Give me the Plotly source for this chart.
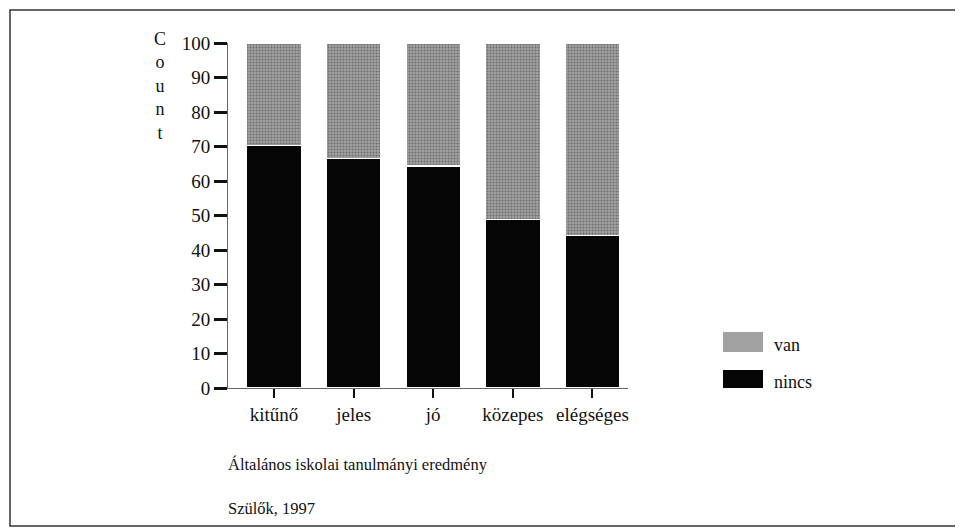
import plotly.graph_objects as go

categories = ["kitűnő", "jeles", "jó", "közepes", "elégséges"]
nincs = [70.3, 66.5, 64.3, 48.8, 44.2]
van = [29.7, 33.5, 35.7, 51.2, 55.8]
y_ticks = [0, 10, 20, 30, 40, 50, 60, 70, 80, 90, 100]

SERIF = "Liberation Serif, Times New Roman, serif"
VAN_GRAY = "#a2a2a2"

fig = go.Figure()
fig.add_trace(
    go.Bar(
        x=categories,
        y=nincs,
        name="nincs",
        marker=dict(color="#050505", line=dict(color="white", width=1.5)),
        width=0.69,
    )
)
fig.add_trace(
    go.Bar(
        x=categories,
        y=van,
        name="van",
        marker=dict(
            color=VAN_GRAY,
            line=dict(color="white", width=1.5),
            pattern=dict(shape=".", fgcolor="#3c3c3c", size=3, solidity=0.4),
        ),
        width=0.69,
    )
)

# page body adds 8px, so the figure is 8px smaller than the window
fig.update_layout(
    barmode="stack",
    width=955,
    height=524,
    margin=dict(l=220, r=335, t=35, b=144),
    paper_bgcolor="white",
    plot_bgcolor="white",
    font=dict(family=SERIF, size=18, color="#111"),
    showlegend=False,
    xaxis=dict(
        range=[-0.578, 4.447],
        showline=True,
        linecolor="#666",
        linewidth=1,
        ticks="outside",
        ticklen=9,
        tickwidth=2,
        tickcolor="#111",
        showgrid=False,
        tickfont=dict(family=SERIF, size=19),
    ),
    yaxis=dict(
        range=[0, 100],
        tickvals=y_ticks,
        showline=True,
        linecolor="#666",
        linewidth=1,
        ticks="outside",
        ticklen=13,
        tickwidth=2.5,
        tickcolor="#111",
        showgrid=False,
        zeroline=False,
        tickfont=dict(family=SERIF, size=19),
    ),
)

fig.add_annotation(
    text="C<br>o<br>u<br>n<br>t",
    xref="paper", yref="paper",
    x=-0.17, y=1.045,
    xanchor="center", yanchor="top",
    showarrow=False,
    font=dict(family=SERIF, size=18),
)
fig.add_annotation(
    text="Általános iskolai tanulmányi eredmény",
    xref="paper", yref="paper",
    x=-0.005, y=-0.223,
    xanchor="left", yanchor="middle",
    showarrow=False,
    font=dict(family=SERIF, size=16.5),
)
fig.add_annotation(
    text="Szülők, 1997",
    xref="paper", yref="paper",
    x=-0.005, y=-0.348,
    xanchor="left", yanchor="middle",
    showarrow=False,
    font=dict(family=SERIF, size=16.5),
)

# legend keys, drawn large like the printed figure
legend_items = [("van", VAN_GRAY, 0.104, 0.162, 0.124), ("nincs", "#050505", 0.0, 0.052, 0.017)]
for label, colour, y0, y1, ty in legend_items:
    fig.add_shape(
        type="rect",
        xref="paper", yref="paper",
        x0=1.2375, x1=1.3375, y0=y0, y1=y1,
        line=dict(width=0),
        fillcolor=colour,
    )
    fig.add_annotation(
        text=label,
        xref="paper", yref="paper",
        x=1.36, y=ty,
        xanchor="left", yanchor="middle",
        showarrow=False,
        font=dict(family=SERIF, size=18),
    )

# outer frame like the printed figure box
fig.add_shape(
    type="rect",
    xref="paper", yref="paper",
    x0=-0.545, x1=1.825, y0=-0.4, y1=1.096,
    line=dict(color="#333", width=1.5),
    fillcolor="rgba(0,0,0,0)",
    layer="below",
)

fig.write_html("out.html")
